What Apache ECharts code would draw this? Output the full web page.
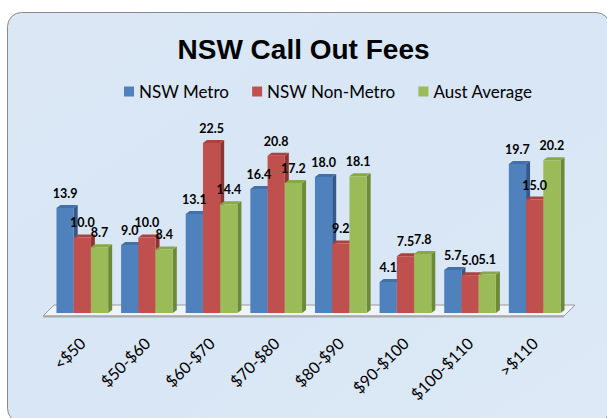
<!DOCTYPE html>
<html><head><meta charset="utf-8">
<script src="https://cdn.jsdelivr.net/npm/echarts@6/dist/echarts.min.js"></script>
<style>html,body{margin:0;padding:0;background:#fff}#c{width:607px;height:418px}</style>
</head><body><div id="c"></div>
<script>
const categories = ['<$50', '$50-$60', '$60-$70', '$70-$80', '$80-$90', '$90-$100', '$100-$110', '>$110'];
const nswMetro = [13.9, 9.0, 13.1, 16.4, 18.0, 4.1, 5.7, 19.7];
const nswNonMetro = [10.0, 10.0, 22.5, 20.8, 9.2, 7.5, 5.0, 15.0];
const austAverage = [8.7, 8.4, 14.4, 17.2, 18.1, 7.8, 5.1, 20.2];
const seriesNames = ['NSW Metro', 'NSW Non-Metro', 'Aust Average'];
const titleText = 'NSW Call Out Fees';

const frontColors = ['#4f81bd', '#c0504d', '#9bbb59'];
const sideColors = ['#35598a', '#8e3533', '#6c8a38'];
const topColors = ['#4270a8', '#ad413e', '#89a84b'];
const allValues = [nswMetro, nswNonMetro, austAverage];
const CAT_GAP = 0.2;

function extrude(sIdx) {
  return function (params, api) {
    const cat = api.value(0), v = api.value(1);
    const cw = api.size([1, 0])[0];
    const bw = cw * (1 - CAT_GAP) / 3;
    const base = api.coord([cat, 0]);
    const top = api.coord([cat, v]);
    const x0 = base[0] - cw * (1 - CAT_GAP) / 2 + sIdx * bw;
    const x1 = x0 + bw;
    const yb = base[1], yt = top[1];
    const dx = 4, dy = 3;
    return {
      type: 'group', children: [
        { type: 'polygon', shape: { points: [[x1, yb], [x1, yt], [x1 + dx, yt - dy], [x1 + dx, yb - dy]] }, style: { fill: sideColors[sIdx] } },
        { type: 'polygon', shape: { points: [[x0, yt], [x1, yt], [x1 + dx, yt - dy], [x0 + dx, yt - dy]] }, style: { fill: topColors[sIdx] } }
      ]
    };
  };
}

const barSeries = allValues.map((vals, s) => ({
  type: 'bar',
  name: seriesNames[s],
  data: vals,
  barGap: '0%',
  barCategoryGap: (CAT_GAP * 100) + '%',
  z: 3,
  itemStyle: { color: frontColors[s] },
  label: {
    show: true, position: 'top', distance: 8,
    formatter: p => p.value.toFixed(1),
    fontFamily: 'Lato', fontWeight: 'bold', fontSize: 12.5, color: '#000'
  },
  emphasis: { disabled: true }
}));

const sideSeries = allValues.map((vals, s) => ({
  type: 'custom',
  silent: true,
  z: 2,
  renderItem: extrude(s),
  encode: { x: 0, y: 1 },
  data: vals.map((v, i) => [i, v])
}));

const floorSeries = {
  type: 'custom',
  silent: true,
  z: 1,
  encode: { x: 0, y: 1 },
  data: [[0, 0]],
  renderItem: function (params, api) {
    const cs = params.coordSys;
    const L = cs.x, R = cs.x + cs.width;
    const B = api.coord([0, 0])[1];
    return {
      type: 'group', children: [
        { type: 'polygon', shape: { points: [[L - 7, B + 3], [L + 4, B - 8], [R + 8, B - 8], [R - 3, B + 3]] }, style: { fill: '#eef4fa', stroke: '#9a9a9a', lineWidth: 1 } },
        { type: 'line', shape: { x1: L - 7, y1: B + 3.5, x2: R - 3, y2: B + 3.5 }, style: { stroke: '#a8a8a8', lineWidth: 2 } }
      ]
    };
  }
};

const chart = echarts.init(document.getElementById('c'), null, { renderer: 'svg' });
chart.setOption({
  animation: false,
  backgroundColor: '#ffffff',
  graphic: [{
    type: 'rect', z: -10, silent: true,
    shape: { x: 7.5, y: 12.5, width: 602.5, height: 410, r: 14 },
    style: {
      fill: new echarts.graphic.LinearGradient(0, 0, 1, 1, [
        { offset: 0, color: '#dbe7f5' }, { offset: 0.5, color: '#d8e6f5' }, { offset: 1, color: '#dde9f6' }
      ]),
      stroke: '#8a8a8a', lineWidth: 1
    }
  }],
  title: {
    text: titleText, left: 'center', top: 30,
    textStyle: { fontFamily: 'Liberation Sans', fontWeight: 'bold', fontSize: 28, color: '#000' }
  },
  legend: {
    data: seriesNames, top: 78, left: 119, icon: 'rect',
    itemWidth: 10, itemHeight: 10, itemGap: 23,
    textStyle: { fontFamily: 'Lato', fontSize: 17, color: '#000', padding: [0, 0, 0, 0] }
  },
  grid: { left: 50, right: 40, top: 124, bottom: 105, containLabel: false },
  xAxis: {
    type: 'category', data: categories,
    axisLine: { show: false }, axisTick: { show: false },
    axisLabel: { rotate: 45, margin: 27, interval: 0, fontFamily: 'Lato', fontSize: 16, color: '#000' }
  },
  yAxis: {
    type: 'value', min: 0, max: 25, show: false, splitLine: { show: false }
  },
  series: [floorSeries, ...sideSeries, ...barSeries]
});
</script>
</body></html>
